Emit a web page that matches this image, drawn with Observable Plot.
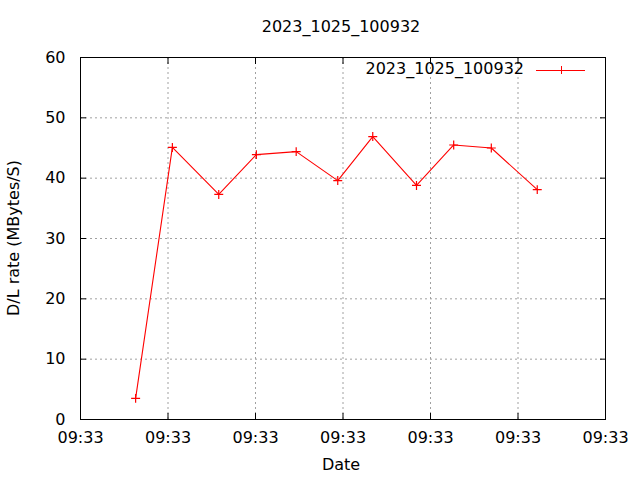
<!DOCTYPE html>
<html>
<head>
<meta charset="utf-8">
<script src="https://cdn.jsdelivr.net/npm/d3@7"></script>
<script src="https://cdn.jsdelivr.net/npm/@observablehq/plot@0.6"></script>
<style>
  body { margin: 0; background: #fff; font-family: "DejaVu Sans", sans-serif; }
  #wrap { position: relative; width: 640px; height: 480px; }
  .lbl { position: absolute; font-size: 16px; color: #000; white-space: nowrap; line-height: 1; }
</style>
</head>
<body>
<div id="wrap"></div>
<script>
const title = "2023_1025_100932";
const seriesName = "2023_1025_100932";
const xLabel = "Date";
const yLabel = "D/L rate (MBytes/S)";
const times = [
  "2023-10-25T09:33:06.3Z", "2023-10-25T09:33:10.5Z", "2023-10-25T09:33:15.8Z",
  "2023-10-25T09:33:20.1Z", "2023-10-25T09:33:24.65Z", "2023-10-25T09:33:29.4Z",
  "2023-10-25T09:33:33.4Z", "2023-10-25T09:33:38.4Z", "2023-10-25T09:33:42.65Z",
  "2023-10-25T09:33:46.95Z", "2023-10-25T09:33:52.2Z"
];
const rates = [3.5, 45.1, 37.3, 43.9, 44.4, 39.6, 46.9, 38.8, 45.5, 45.0, 38.1];
const xDomain = ["2023-10-25T09:33:00Z", "2023-10-25T09:34:00Z"];
const xTicks = ["2023-10-25T09:33:00Z", "2023-10-25T09:33:10Z", "2023-10-25T09:33:20Z",
  "2023-10-25T09:33:30Z", "2023-10-25T09:33:40Z", "2023-10-25T09:33:50Z", "2023-10-25T09:34:00Z"];
const xTickLabels = ["09:33", "09:33", "09:33", "09:33", "09:33", "09:33", "09:33"];
const yTicks = [0, 10, 20, 30, 40, 50, 60];

const data = times.map((t, i) => ({date: new Date(t), rate: rates[i]}));
const xt = xTicks.map(t => new Date(t));
const tickFmt = (d, i) => xTickLabels[i];
const grid = {stroke: "#a0a0a0", strokeOpacity: 1, strokeDasharray: "2,3"};
const tk = {stroke: "#000", strokeOpacity: 1, tickSize: 6, text: null, label: null};

const chart = Plot.plot({
  width: 640,
  height: 480,
  marginLeft: 80,
  marginRight: 35,
  marginTop: 57,
  marginBottom: 61,
  style: {fontFamily: "DejaVu Sans, sans-serif", fontSize: "16px", background: "#fff", color: "#000"},
  x: {type: "utc", domain: xDomain.map(d => new Date(d))},
  y: {domain: [0, 60]},
  marks: [
    Plot.gridX(xt, grid),
    Plot.gridY(yTicks, grid),
    Plot.axisX(xt, {anchor: "bottom", tickSize: 0, tickPadding: 12, tickFormat: tickFmt, label: null}),
    Plot.axisY(yTicks, {anchor: "left", tickSize: 0, tickPadding: 15, label: null}),
    Plot.axisX(xt, {anchor: "bottom", dy: -6, ...tk}),
    Plot.axisX(xt, {anchor: "top", dy: 6, ...tk}),
    Plot.axisY(yTicks, {anchor: "left", dx: 6, ...tk}),
    Plot.axisY(yTicks, {anchor: "right", dx: -6, ...tk}),
    Plot.line(data, {x: "date", y: "rate", stroke: "red", strokeWidth: 1.1}),
    Plot.dot(data, {x: "date", y: "rate", symbol: "plus", stroke: "red", r: 3, strokeWidth: 1.2}),
    Plot.frame({stroke: "#000", strokeWidth: 1})
  ]
});

const wrap = document.getElementById("wrap");
wrap.appendChild(chart);

function addLabel(text, css) {
  const d = document.createElement("div");
  d.className = "lbl";
  d.textContent = text;
  Object.assign(d.style, css);
  wrap.appendChild(d);
  return d;
}
addLabel(title, {left: "341px", top: "27px", transform: "translate(-50%,-50%)"});
addLabel(xLabel, {left: "341px", top: "465px", transform: "translate(-50%,-50%)"});
addLabel(yLabel, {left: "14px", top: "238px", transform: "translate(-50%,-50%) rotate(-90deg)"});
addLabel(seriesName, {right: "116px", top: "69px", transform: "translateY(-50%)"});

// legend sample
const ns = "http://www.w3.org/2000/svg";
const leg = document.createElementNS(ns, "svg");
leg.setAttribute("width", 52);
leg.setAttribute("height", 12);
leg.style.position = "absolute";
leg.style.left = "535px";
leg.style.top = "64px";
leg.innerHTML = '<line x1="1" x2="50" y1="6" y2="6" stroke="red" stroke-width="1" shape-rendering="crispEdges"/>' +
  '<line x1="26" x2="26" y1="2" y2="10" stroke="red" stroke-width="1" shape-rendering="crispEdges"/>';
wrap.appendChild(leg);
</script>
</body>
</html>
